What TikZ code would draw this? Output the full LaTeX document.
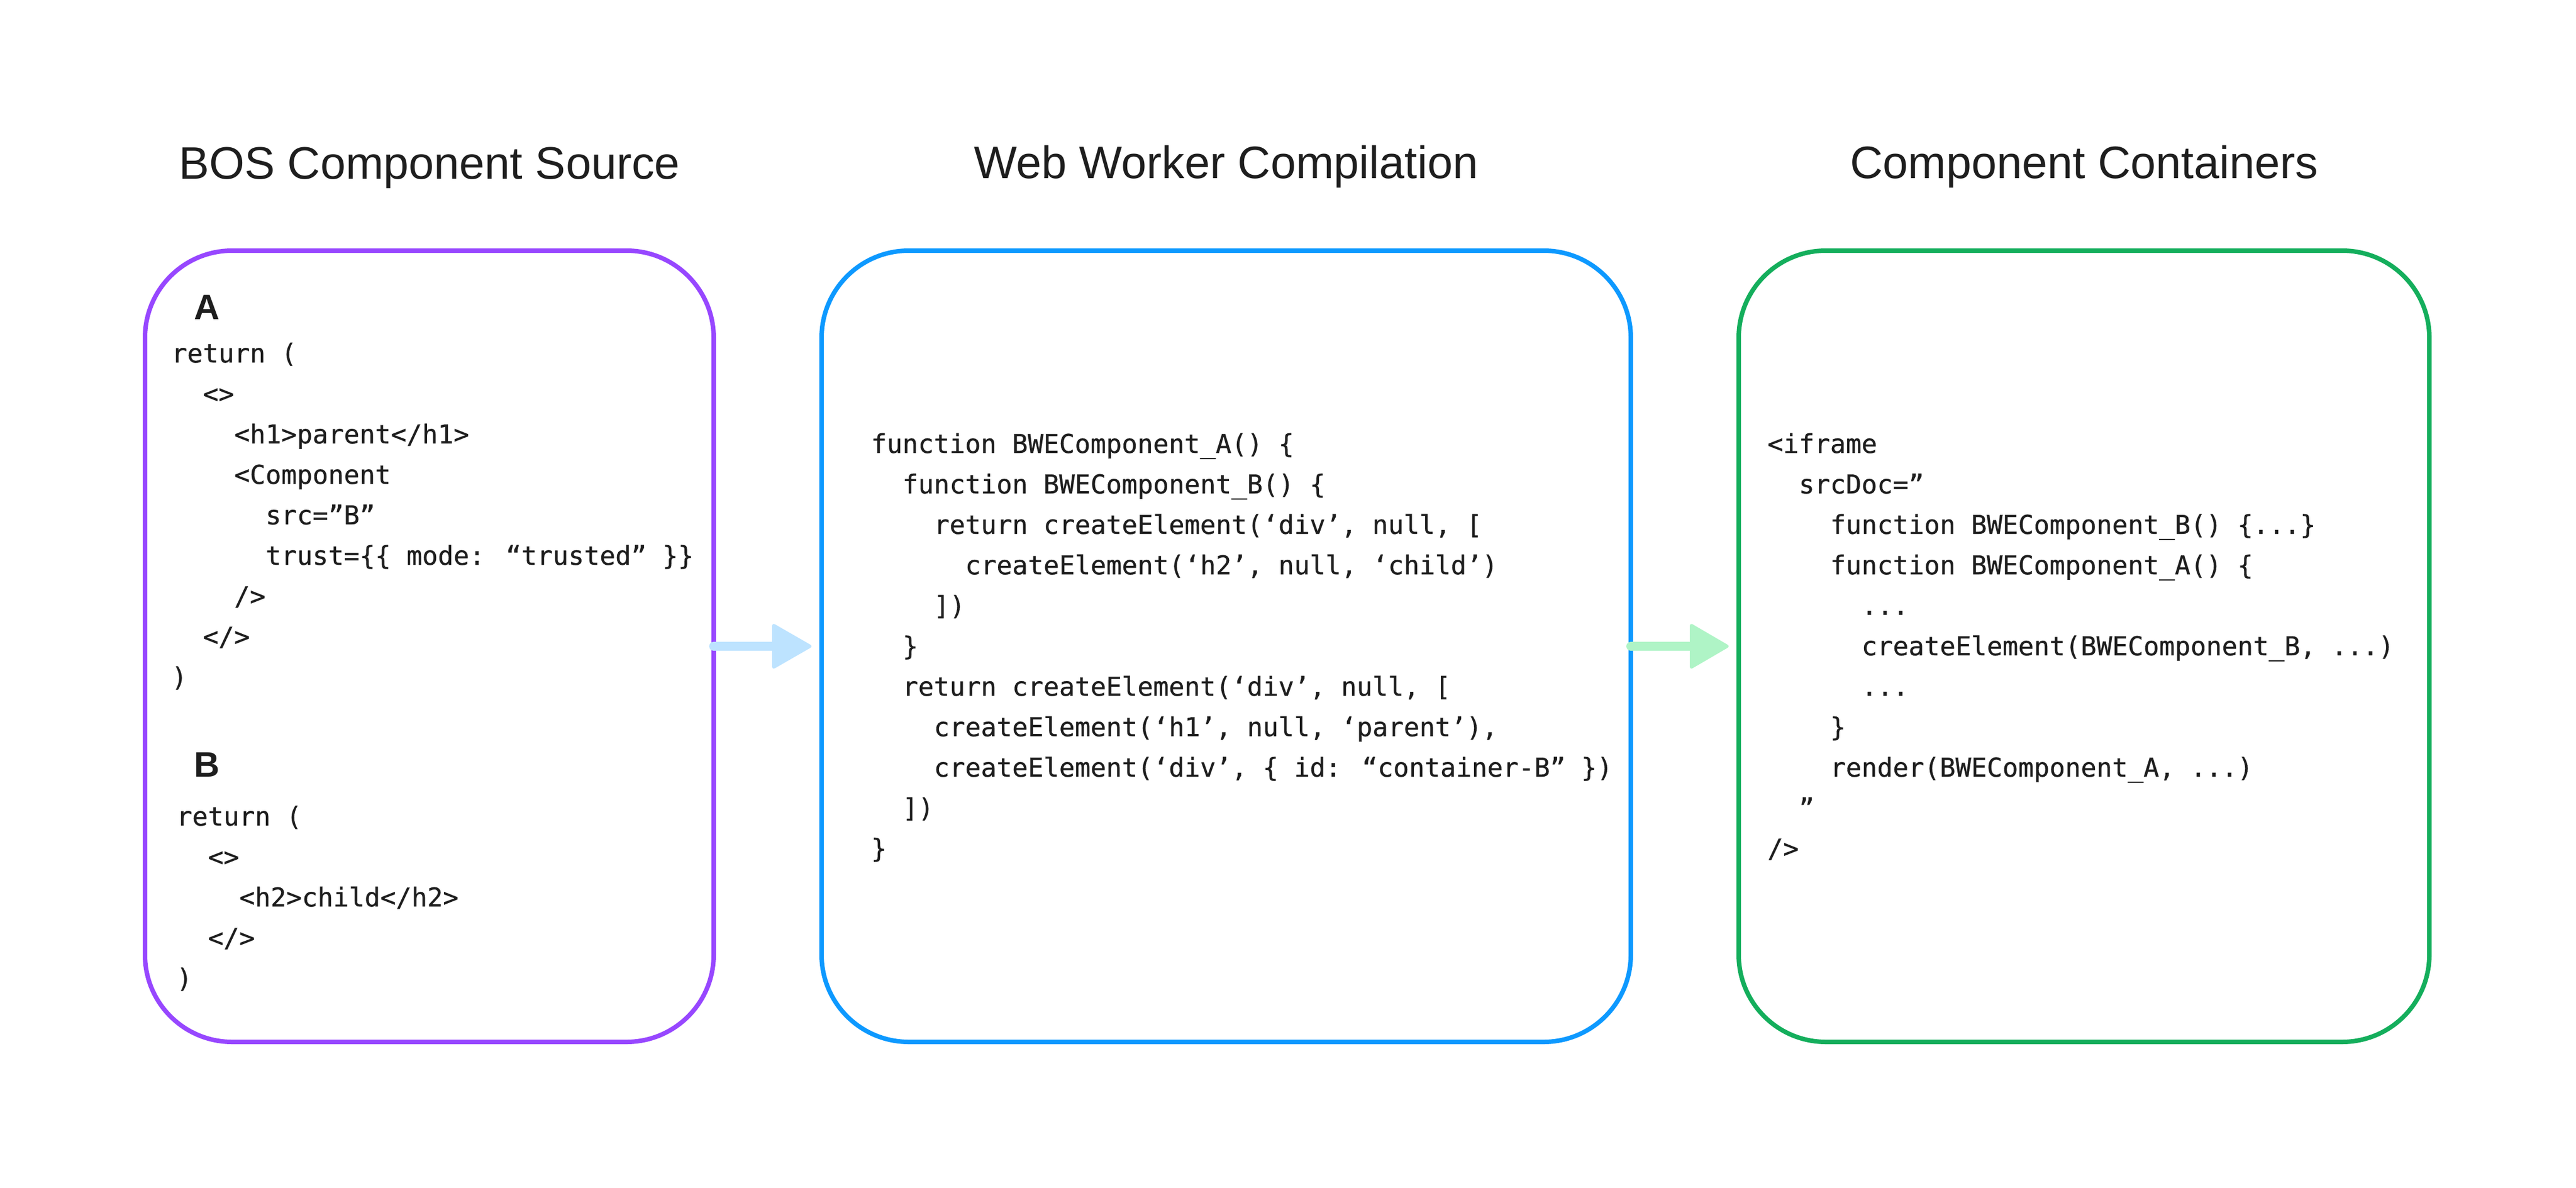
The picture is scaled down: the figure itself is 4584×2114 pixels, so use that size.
\documentclass[tikz,border=0pt]{standalone}
\usepackage{fontspec}
\newfontfamily\codefont[FakeBold=0.6]{DejaVu Sans Mono}
\newfontfamily\titlefont{Liberation Sans}
\definecolor{bospurple}{HTML}{9747FF}
\definecolor{wwblue}{HTML}{0D99FF}
\definecolor{ccgreen}{HTML}{14AE5C}
\definecolor{arrblue}{HTML}{BDE3FF}
\definecolor{arrgreen}{HTML}{AFF4C6}
\definecolor{ink}{HTML}{1E1E1E}
\begin{document}
\begin{tikzpicture}[x=1pt,y=-1pt,
  panel/.style={draw, line width=8pt, rectangle, rounded corners=155pt,
    minimum height=1408pt, inner sep=0pt, outer sep=0pt},
  paneltitle/.style={anchor=base, inner sep=0pt, text=ink,
    font=\titlefont\fontsize{81}{90}\selectfont},
  blocklabel/.style={anchor=base west, inner sep=0pt, text=ink,
    font=\titlefont\bfseries\fontsize{63}{70}\selectfont},
  code/.style={anchor=base west, inner sep=0pt, text=ink,
    font=\codefont\fontsize{46.3}{55}\selectfont},
  shaft/.style={line width=16pt, line cap=round},
  head/.style={rounded corners=6pt}
]
\useasboundingbox (0,0) rectangle (4584,2114);

% panels
\node[panel, draw=bospurple, minimum width=1012pt] (src) at (764,1150) {};
\node[panel, draw=wwblue, minimum width=1440pt] (wk) at (2182,1150) {};
\node[panel, draw=ccgreen, minimum width=1229pt] (cc) at (3708.5,1150) {};

% titles
\node[paneltitle] (t1) at (764,318) {BOS Component Source};
\node[paneltitle] (t2) at (2182,317) {Web Worker Compilation};
\node[paneltitle] (t3) at (3708.5,317) {Component Containers};

% block labels
\node[blocklabel] (la) at (345,568) {A};
\node[blocklabel] (lb) at (345,1382) {B};

% source A
\node[code] (a1) at (305,645) {return (};
\node[code] (a2) at ({305+2*27.9},717) {<>};
\node[code] (a3) at ({305+4*27.9},789) {<h1>parent</h1>};
\node[code] (a4) at ({305+4*27.9},861) {<Component};
\node[code] (a5) at ({305+6*27.9},933) {src=”B”};
\node[code] (a6) at ({305+6*27.9},1005) {trust=\{\{ mode: “trusted” \}\}};
\node[code] (a7) at ({305+4*27.9},1077) {/>};
\node[code] (a8) at ({305+2*27.9},1149) {</>};
\node[code] (a9) at (305,1221) {)};

% source B
\node[code] (b1) at (314,1469) {return (};
\node[code] (b2) at ({314+2*27.9},1541) {<>};
\node[code] (b3) at ({314+4*27.9},1613) {<h2>child</h2>};
\node[code] (b4) at ({314+2*27.9},1685) {</>};
\node[code] (b5) at (314,1757) {)};

% web worker
\node[code] (w1) at (1550,806) {function BWEComponent\_A() \{};
\node[code] (w2) at ({1550+2*27.9},878) {function BWEComponent\_B() \{};
\node[code] (w3) at ({1550+4*27.9},950) {return createElement(‘div’, null, [};
\node[code] (w4) at ({1550+6*27.9},1022) {createElement(‘h2’, null, ‘child’)};
\node[code] (w5) at ({1550+4*27.9},1094) {])};
\node[code] (w6) at ({1550+2*27.9},1166) {\}};
\node[code] (w7) at ({1550+2*27.9},1238) {return createElement(‘div’, null, [};
\node[code] (w8) at ({1550+4*27.9},1310) {createElement(‘h1’, null, ‘parent’),};
\node[code] (w9) at ({1550+4*27.9},1382) {createElement(‘div’, \{ id: “container-B” \})};
\node[code] (w10) at ({1550+2*27.9},1454) {])};
\node[code] (w11) at (1550,1526) {\}};

% containers
\node[code] (g1) at (3145,806) {<iframe};
\node[code] (g2) at ({3145+2*27.9},878) {srcDoc=”};
\node[code] (g3) at ({3145+4*27.9},950) {function BWEComponent\_B() \{...\}};
\node[code] (g4) at ({3145+4*27.9},1022) {function BWEComponent\_A() \{};
\node[code] (g5) at ({3145+6*27.9},1094) {...};
\node[code] (g6) at ({3145+6*27.9},1166) {createElement(BWEComponent\_B, ...)};
\node[code] (g7) at ({3145+6*27.9},1238) {...};
\node[code] (g8) at ({3145+4*27.9},1310) {\}};
\node[code] (g9) at ({3145+4*27.9},1382) {render(BWEComponent\_A, ...)};
\node[code] (g10) at ({3145+2*27.9},1454) {”};
\node[code] (g11) at (3145,1526) {/>};

% arrows
\coordinate (h1) at (1380,1150);
\draw[shaft, arrblue] (src.east) -- (h1);
\fill[head, arrblue] (1374,1108) -- (1447,1150) -- (1374,1192) -- cycle;
\coordinate (h2) at (3012,1150);
\draw[shaft, arrgreen] (wk.east) -- (h2);
\fill[head, arrgreen] (3007,1108) -- (3079,1150) -- (3007,1192) -- cycle;
\end{tikzpicture}
\end{document}
